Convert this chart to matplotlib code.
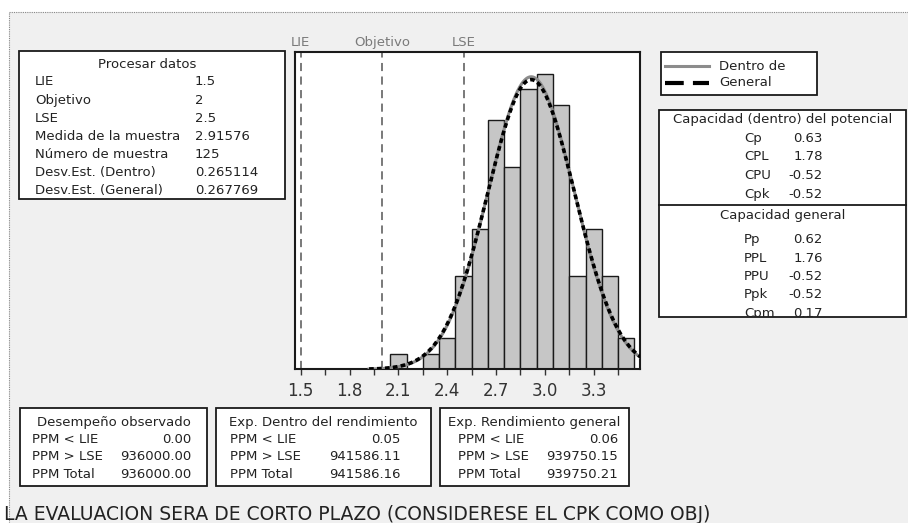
import numpy as np
import matplotlib
matplotlib.use("Agg")
import matplotlib.pyplot as plt
from matplotlib.patches import Rectangle
from matplotlib.lines import Line2D
from matplotlib.transforms import Bbox, TransformedBbox

# process data
lie, objetivo, lse = 1.5, 2.0, 2.5
media = 2.91576
n_muestra = 125
sd_dentro = 0.265114
sd_general = 0.267769

# histogram (bin centres, counts)
bin_centers = [2.1, 2.2, 2.3, 2.4, 2.5, 2.6, 2.7, 2.8, 2.9, 3.0, 3.1, 3.2, 3.3, 3.4, 3.5]
counts = [1, 0, 1, 2, 6, 9, 16, 13, 18, 19, 17, 6, 9, 6, 2]
bin_width = 0.1

proc_labels = ["LIE", "Objetivo", "LSE", "Medida de la muestra", "Número de muestra",
               "Desv.Est. (Dentro)", "Desv.Est. (General)"]
proc_values = ["1.5", "2", "2.5", "2.91576", "125", "0.265114", "0.267769"]

cap_dentro_labels = ["Cp", "CPL", "CPU", "Cpk"]
cap_dentro_values = ["0.63", "1.78", "-0.52", "-0.52"]
cap_general_labels = ["Pp", "PPL", "PPU", "Ppk", "Cpm"]
cap_general_values = ["0.62", "1.76", "-0.52", "-0.52", "0.17"]

ppm_labels = ["PPM < LIE", "PPM > LSE", "PPM Total"]
ppm_obs = ["0.00", "936000.00", "936000.00"]
ppm_dentro = ["0.05", "941586.11", "941586.16"]
ppm_general = ["0.06", "939750.15", "939750.21"]

W, H = 908, 523
TXT = "#222222"
FS = 9.5

fig = plt.figure(figsize=(W / 100, H / 100), dpi=100)
fig.patch.set_facecolor("white")


def fx(x):
    return x / W


def fy(y):
    return 1 - y / H


def box(x0, y0, x1, y1):
    r = Rectangle((fx(x0), fy(y1)), (x1 - x0) / W, (y1 - y0) / H, transform=fig.transFigure,
                  facecolor="white", edgecolor="#1a1a1a", lw=1.3, zorder=2)
    fig.add_artist(r)
    return TransformedBbox(Bbox([[fx(x0), fy(y1)], [fx(x1), fy(y0)]]), fig.transFigure)


def txt(x, y, s, ha="left", clip=None, **kw):
    t = fig.text(fx(x), fy(y), s, ha=ha, va="center", fontsize=kw.pop("fontsize", FS),
                 color=kw.pop("color", TXT), zorder=3, **kw)
    if clip is not None:
        t.set_clip_box(clip)
        t.set_clip_on(True)
    return t


# grey panel with dotted frame
panel = Rectangle((fx(9), 0), 1 - fx(9), fy(11.5), transform=fig.transFigure,
                  facecolor="#f0f0f0", edgecolor="none", zorder=0)
fig.add_artist(panel)
fig.add_artist(Line2D([fx(9), 1], [fy(11.5), fy(11.5)], transform=fig.transFigure,
                      color="#888888", lw=0.8, ls=(0, (1, 1)), zorder=1))
fig.add_artist(Line2D([fx(9), fx(9)], [0, fy(11.5)], transform=fig.transFigure,
                      color="#888888", lw=0.8, ls=(0, (1, 1)), zorder=1))

# histogram axes
ax = fig.add_axes([fx(295), fy(369.3), (640 - 295) / W, (369.3 - 51.7) / H])
ax.set_facecolor("white")
ax.bar(bin_centers, counts, width=bin_width, color="#c6c6c6", edgecolor="#1a1a1a",
       linewidth=1.0, zorder=2)

xs = np.linspace(1.92, 3.62, 400)
for sd, style in [(sd_dentro, dict(color="#8c8c8c", lw=2.2, ls="-")),
                  (sd_general, dict(color="black", lw=2.6, ls=(0, (1.3, 0.9))))]:
    ys = n_muestra * bin_width * np.exp(-0.5 * ((xs - media) / sd) ** 2) / (sd * np.sqrt(2 * np.pi))
    ax.plot(xs, ys, zorder=3, **style)

for v, name in [(lie, "LIE"), (objetivo, "Objetivo"), (lse, "LSE")]:
    ax.axvline(v, color="#6e6e6e", lw=1.3, ls=(0, (4.5, 3)), zorder=1)
    ax.text(v, 1.028, name, transform=ax.get_xaxis_transform(), ha="center", va="center",
            fontsize=FS, color="#7a7a7a", clip_on=False)

ax.set_xlim(1.465, 3.584)
ax.set_ylim(0, 20.42)
ax.set_xticks(np.round(np.arange(1.5, 3.31, 0.3), 2))
ax.set_xticklabels([f"{v:.1f}" for v in np.arange(1.5, 3.31, 0.3)])
ax.set_xticks(np.round(np.arange(1.65, 3.46, 0.3), 2), minor=True)
ax.tick_params(axis="x", which="both", direction="out", length=4, width=1, color="#333333",
               labelsize=12, labelcolor="#333333", pad=5)
ax.set_yticks([])
for s in ax.spines.values():
    s.set_color("#1a1a1a")
    s.set_linewidth(1.5)

# Procesar datos
clip = box(19, 51, 285, 199)
txt(147, 65, "Procesar datos", ha="center")
for i, (lab, val) in enumerate(zip(proc_labels, proc_values)):
    y = 82 + i * 18.1
    txt(35, y, lab, clip=clip)
    txt(195, y, val, clip=clip)

# legend
box(661, 52, 817, 95)
fig.add_artist(Line2D([fx(665), fx(709)], [fy(66), fy(66)], transform=fig.transFigure,
                      color="#8c8c8c", lw=2.2, zorder=3))
fig.add_artist(Line2D([fx(665), fx(709)], [fy(83), fy(83)], transform=fig.transFigure,
                      color="black", lw=3, ls=(0, (4.5, 2.2)), zorder=3))
txt(719, 66, "Dentro de")
txt(719, 83, "General")

# capability box
clip = box(659, 110, 906, 317)
fig.add_artist(Line2D([fx(659), fx(906)], [fy(205), fy(205)], transform=fig.transFigure,
                      color="#1a1a1a", lw=1.3, zorder=3))
txt(783, 120, "Capacidad (dentro) del potencial", ha="center")
for i, (lab, val) in enumerate(zip(cap_dentro_labels, cap_dentro_values)):
    y = 138.3 + i * 18.6
    txt(744, y, lab, clip=clip)
    txt(823, y, val, ha="right", clip=clip)
txt(783, 215, "Capacidad general", ha="center")
for i, (lab, val) in enumerate(zip(cap_general_labels, cap_general_values)):
    y = 240 + i * 18.3
    txt(744, y, lab, clip=clip)
    txt(823, y, val, ha="right", clip=clip)

# PPM boxes
ppm_boxes = [
    ((20, 207), "Desempeño observado", 32, 191, ppm_obs),
    ((216, 431), "Exp. Dentro del rendimiento", 230, 401, ppm_dentro),
    ((440, 629), "Exp. Rendimiento general", 458, 618, ppm_general),
]
for (x0, x1), title, lx, vx, vals in ppm_boxes:
    clip = box(x0, 408, x1, 486)
    txt((x0 + x1) / 2, 422.5, title, ha="center")
    for i, (lab, val) in enumerate(zip(ppm_labels, vals)):
        y = 439.5 + i * 17.3
        txt(lx, y, lab, clip=clip)
        txt(vx, y, val, ha="right", clip=clip)

txt(4, 515, "LA EVALUACION SERA DE CORTO PLAZO (CONSIDERESE EL CPK COMO OBJ)", fontsize=13.5)

fig.savefig("out.png", dpi=100, facecolor=fig.get_facecolor())
